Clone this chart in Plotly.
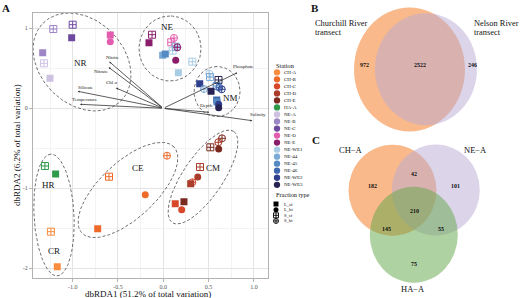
import numpy as np
import plotly.graph_objects as go

W, H = 520, 298
SERIF = "Liberation Serif, Times New Roman, DejaVu Serif, serif"

# ---------------- data ----------------
stations = ["CH-A", "CH-B", "CH-C", "CH-D", "CH-E", "HA-A", "NE-A", "NE-B", "NE-C",
            "NE-D", "NE-E", "NE-WE1", "NE-44", "NE-45", "NE-46", "NE-WE2", "NE-WE3"]
fraction_types = ["L_sf", "L_bt", "S_sf", "S_bt"]

pt_station = ["NE-B", "NE-C", "NE-C", "NE-B", "NE-A", "NE-A", "NE-D", "NE-D",
              "NE-E", "NE-E", "NE-D", "NE-D", "NE-WE1", "NE-44", "NE-E", "NE-44", "NE-45", "NE-E", "NE-WE1", "NE-WE1",
              "NE-WE1", "NE-44", "NE-WE2", "NE-44", "NE-WE3", "NE-45", "NE-46", "NE-WE2", "NE-WE3", "NE-46", "NE-45", "NE-WE2", "NE-WE3",
              "CH-E", "CH-D", "CH-E", "CH-E", "CH-D", "CH-D", "CH-C", "CH-D", "CH-E", "CH-C", "CH-C",
              "CH-B", "CH-B", "CH-B", "CH-B",
              "HA-A", "HA-A", "CH-A", "CH-A"]
pt_fraction = ["S_sf", "S_sf", "L_sf", "L_sf", "S_sf", "L_sf", "L_sf", "L_bt",
               "S_sf", "L_sf", "S_bt", "S_sf", "S_sf", "S_sf", "S_bt", "L_sf", "L_sf", "L_bt", "S_sf", "L_sf",
               "S_bt", "S_sf", "L_sf", "S_bt", "S_sf", "S_sf", "S_bt", "S_bt", "L_sf", "L_sf", "L_sf", "L_bt", "L_bt",
               "S_bt", "S_bt", "S_sf", "L_bt", "S_sf", "L_bt", "S_bt", "L_sf", "L_sf", "L_sf", "L_bt",
               "S_bt", "S_sf", "L_bt", "L_sf",
               "S_sf", "L_sf", "S_sf", "L_sf"]
pt_rda1 = [-1.214, -1.00, -1.011, -1.331, -1.317, -1.25, -0.585, -0.585,
           -0.124, -0.158, 0.118, 0.088, 0.103, 0.137, 0.155, -0.007, 0.022, 0.137, 0.32, 0.166,
           0.508, 0.515, 0.402, 0.449, 0.609, 0.589, 0.618, 0.645, 0.527, 0.589, 0.593, 0.611, 0.611,
           0.648, 0.607, 0.519, 0.611, 0.405, 0.38, 0.32, 0.302, 0.228, 0.132, 0.203,
           0.041, -0.599, -0.199, -0.724,
           -1.306, -1.188, -1.24, -1.17]
pt_rda2 = [0.991, 1.045, 0.883, 0.695, 0.5625, 0.375, 0.916, 0.833,
           0.92, 0.82, 0.879, 0.825, 0.72, 0.77, 0.762, 0.662, 0.679, 0.60, 0.583, 0.445,
           0.4325, 0.39, 0.3075, 0.241, 0.354, 0.279, 0.2575, 0.2375, 0.2125, 0.104, 0.079, 0.05, 0.0075,
           -0.375, -0.425, -0.4875, -0.509, -0.734, -0.859, -0.925, -0.9425, -1.1675, -1.1925, -1.2675,
           -0.5925, -0.855, -1.08, -1.505,
           -0.721, -0.821, -1.5425, -1.98]

env_vars = ["Nitrite", "Nitrate", "Chl <i>a</i>", "Silicate", "Temperature", "Phosphate", "Depth", "Salinity"]
env_rda1 = [-0.596, -0.603, -0.522, -0.945, -0.919, 0.817, 0.508, 0.982]
env_rda2 = [0.583, 0.5125, 0.254, 0.2125, 0.05, 0.445, -0.05, -0.155]

groups = ["NR", "NE", "NM", "CE", "CM", "HR", "CR"]

venn_b_labels = ["Churchill River", "transect", "Nelson River", "transect"]
venn_b_counts = [972, 2522, 246]          # CH only, shared, NE only
venn_c_labels = ["CH\u2212A", "NE\u2212A", "HA\u2212A"]
venn_c_counts = [182, 42, 101, 210, 145, 55, 75]

# ---------------- styles / layout constants ----------------
station_colors = ["#F98C3F", "#EE6A2A", "#D9472B", "#A93C2A", "#7B2A1F", "#2E9A4A",
                  "#CDC2E2", "#9D86C6", "#6E4A9E", "#E35DAE", "#8A1E6B",
                  "#A9CCE5", "#7BAAD6", "#5489C4", "#3F66AC", "#2F3F8E", "#262352"]
col_of = dict(zip(stations, station_colors))
symbol_of = {"L_sf": "square", "L_bt": "circle", "S_sf": "square-cross-open", "S_bt": "circle-cross-open"}

# panel A plot area in pixels
AX0, AX1, AY0, AY1 = 32.7, 267.7, 12.7, 278.3
XR = [-1.441, 1.152]
YR = [-2.125, 1.195]
sx = (AX1 - AX0) / (XR[1] - XR[0])
sy = (AY1 - AY0) / (YR[1] - YR[0])

def px_to_paper(x, y):
    return x / W, 1 - y / H

fig = go.Figure()

# ellipses (center data coords, semi-axes px, angle deg)
ellipses = [(-0.897, 0.579, 55, 42, -45), (0.074, 0.7475, 32.5, 31, 90), (0.593, 0.21, 25, 23, 90),
            (-0.39, -1.021, 63, 28, 43), (0.438, -0.859, 55, 20, 56), (-1.206, -1.334, 61, 20, 93)]
t = np.linspace(0, 2 * np.pi, 160)
for cx, cy, a, b, ang in ellipses:
    th = np.radians(ang)
    ux, uy = a * np.cos(t), b * np.sin(t)
    ex = cx + (ux * np.cos(th) - uy * np.sin(th)) / sx
    ey = cy + (ux * np.sin(th) + uy * np.cos(th)) / sy
    fig.add_trace(go.Scatter(x=ex, y=ey, mode="lines", hoverinfo="skip", showlegend=False,
                             line=dict(color="#4a4a4a", width=0.8, dash="3px,2px")))

# points
for st, fr, x, y in zip(pt_station, pt_fraction, pt_rda1, pt_rda2):
    open_ = fr.startswith("S")
    fig.add_trace(go.Scatter(x=[x], y=[y], mode="markers", showlegend=False,
                             marker=dict(symbol=symbol_of[fr], size=7, color=col_of[st],
                                         line=dict(width=1 if open_ else 0, color=col_of[st]))))

annotations = []
# env arrows
label_off = [(3.4, -4.5), (-7, 4), (-4.5, -5), (8, -3.5), (5, -5), (6, -6), (-2.8, -6.3), (5.5, -6.4)]
for name, x, y, (ox, oy) in zip(env_vars, env_rda1, env_rda2, label_off):
    annotations.append(dict(x=x, y=y, ax=0, ay=0, xref="x", yref="y", axref="x", ayref="y",
                            showarrow=True, arrowhead=2, arrowsize=0.5, arrowwidth=0.8,
                            arrowcolor="#333333", text=""))
    annotations.append(dict(x=x + ox / sx, y=y - oy / sy, xref="x", yref="y", text=name,
                            showarrow=False, font=dict(family=SERIF, size=5, color="#222")))

group_pos = [(-0.912, 0.5625), (0.049, 1.0125), (0.744, 0.125), (-0.283, -0.75),
             (0.552, -0.75), (-1.262, -0.959), (-1.206, -1.78)]
for g, (gx, gy) in zip(groups, group_pos):
    annotations.append(dict(x=gx, y=gy, xref="x", yref="y", text=g, showarrow=False,
                            font=dict(family=SERIF, size=9, color="#111")))

def pann(px, py, text, size, bold=False, anchor="center", color="#111", angle=0):
    x, y = px_to_paper(px, py)
    annotations.append(dict(x=x, y=y, xref="paper", yref="paper", text=f"<b>{text}</b>" if bold else text,
                            showarrow=False, xanchor=anchor, yanchor="middle", textangle=angle,
                            font=dict(family=SERIF, size=size, color=color)))

pann(148, 293.5, "dbRDA1 (51.2% of total variation)", 9)
pann(16.5, 145.5, "dbRDA2 (6.2% of total variation)", 9, angle=-90)
pann(5.5, 7.5, "A", 11, bold=True)
pann(315, 7.5, "B", 11, bold=True)
pann(316, 140, "C", 11, bold=True)

# legend (x2/y2 pixel axis on right)
leg_y0, leg_dy = 72.3, 7.03
fig.add_trace(go.Scatter(x=[277] * len(stations), y=[leg_y0 + leg_dy * i for i in range(len(stations))],
                         xaxis="x2", yaxis="y2", mode="markers", showlegend=False,
                         marker=dict(symbol="circle", size=6.3, color=station_colors)))
pann(274, 65.5, "Station", 6.3, anchor="left")
for i, s in enumerate(stations):
    pann(282, leg_y0 + leg_dy * i, s, 5.0, anchor="left")
pann(274, 194.5, "Fraction type", 6.3, anchor="left")
fr_y0, fr_dy = 204, 5.65
for i, f in enumerate(fraction_types):
    fig.add_trace(go.Scatter(x=[276], y=[fr_y0 + fr_dy * i], xaxis="x2", yaxis="y2", mode="markers",
                             showlegend=False,
                             marker=dict(symbol=symbol_of[f], size=5, color="black",
                                         line=dict(width=0.9 if f.startswith("S") else 0, color="black"))))
    pann(282, fr_y0 + fr_dy * i, f, 4.6, anchor="left")

# Venn diagrams (pixel geometry)
shapes = []
def vcircle(cx, cy, rx, ry, fill):
    shapes.append(dict(type="circle", xref="x2", yref="y2", x0=cx - rx, x1=cx + rx, y0=cy - ry, y1=cy + ry,
                       fillcolor=fill, line=dict(width=0), layer="below"))

vcircle(409.5, 69.5, 55.5, 62, "rgba(245,138,61,0.6)")
vcircle(426, 69.2, 51, 56, "rgba(185,172,214,0.5)")
b_pos = [(364, 65), (420, 65), (472.3, 65)]
for (bx, by), n in zip(b_pos, venn_b_counts):
    pann(bx, by, str(n), 6, bold=True)
pann(313, 23.6, venn_b_labels[0], 8.4, anchor="left")
pann(313, 32.2, venn_b_labels[1], 8.4, anchor="left")
pann(471.5, 23.6, venn_b_labels[2], 8.4, anchor="left")
pann(471.5, 32.2, venn_b_labels[3], 8.4, anchor="left")

vcircle(392.5, 190.3, 44, 45.5, "rgba(245,138,61,0.6)")
vcircle(435.8, 190.0, 44, 45.5, "rgba(185,172,214,0.5)")
vcircle(413.8, 234.7, 44, 48, "rgba(95,165,70,0.5)")
c_pos = [(372.3, 185.7), (414.3, 174), (455, 185.7), (414.3, 210.7), (386, 229.3), (440.7, 229.3), (414.3, 264)]
for (cx_, cy_), n in zip(c_pos, venn_c_counts):
    pann(cx_, cy_, str(n), 6, bold=True)
pann(350.7, 150, venn_c_labels[0], 8.5)
pann(475, 149.5, venn_c_labels[1], 8.5)
pann(413.3, 289, venn_c_labels[2], 8.5)

axis_font = dict(family=SERIF, size=6, color="#555555")
fig.update_layout(
    width=W, height=H, autosize=False, margin=dict(l=0, r=0, t=0, b=0),
    paper_bgcolor="white", plot_bgcolor="white", showlegend=False,
    annotations=annotations, shapes=shapes,
    xaxis=dict(domain=[AX0 / W, AX1 / W], range=XR, tickvals=[-1.0, -0.5, 0.0, 0.5, 1.0],
               ticktext=["-1.0", "-0.5", "0.0", "0.5", "1.0"], tickfont=axis_font,
               showgrid=True, gridcolor="#e4e4e4", gridwidth=0.7, zeroline=False,
               minor=dict(tickvals=[-1.25, -0.75, -0.25, 0.25, 0.75], showgrid=True, gridcolor="#f3f3f3", gridwidth=0.5, ticks=""),
               showline=True, mirror=True, linecolor="#b3b3b3", linewidth=1.3,
               ticks="outside", ticklen=2.5, tickcolor="#b3b3b3", tickwidth=0.7),
    yaxis=dict(domain=[1 - AY1 / H, 1 - AY0 / H], range=YR, tickvals=[1, 0, -1, -2],
               ticktext=["1", "0", "-1", "-2"], tickfont=axis_font,
               showgrid=True, gridcolor="#e4e4e4", gridwidth=0.7, zeroline=False,
               minor=dict(tickvals=[0.5, -0.5, -1.5], showgrid=True, gridcolor="#f3f3f3", gridwidth=0.5, ticks=""),
               showline=True, mirror=True, linecolor="#b3b3b3", linewidth=1.3,
               ticks="outside", ticklen=2.5, tickcolor="#b3b3b3", tickwidth=0.7),
    xaxis2=dict(domain=[270 / W, 1], range=[270, 520], visible=False, anchor="y2"),
    yaxis2=dict(domain=[0, 1], range=[298, 0], visible=False, anchor="x2"),
)

fig.write_html("out.html", config={"displayModeBar": False},
               post_script="document.body.style.margin='0';document.body.style.overflow='hidden';")
